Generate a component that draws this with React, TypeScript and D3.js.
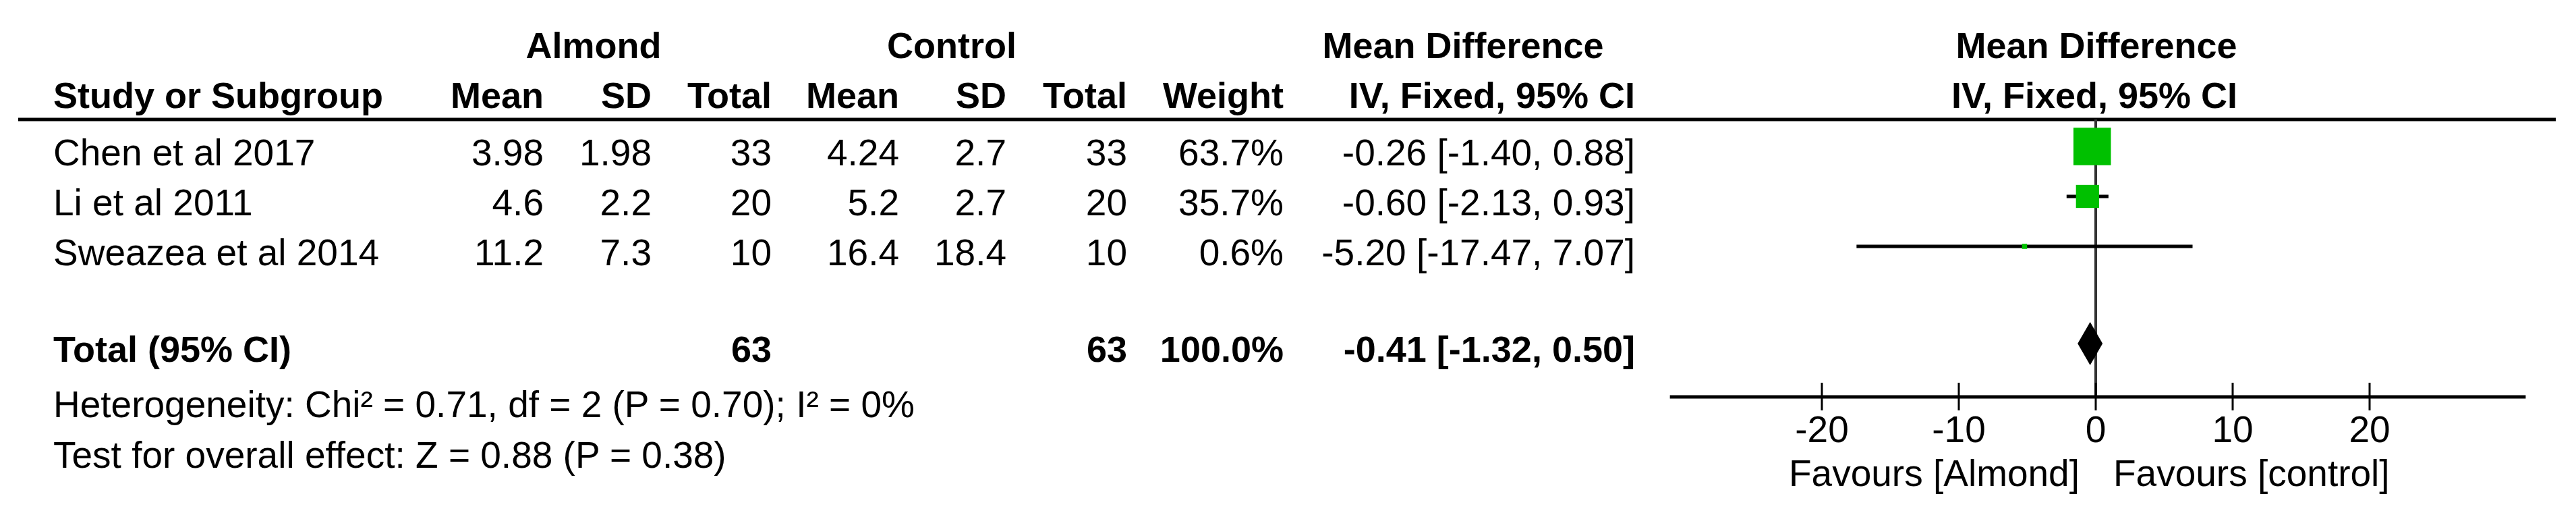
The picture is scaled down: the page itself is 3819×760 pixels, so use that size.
import React from 'react';
import * as d3 from 'd3';

// study rows
const studies = ['Chen et al 2017', 'Li et al 2011', 'Sweazea et al 2014'];
const almondMean = [3.98, 4.6, 11.2];
const almondSD = [1.98, 2.2, 7.3];
const almondTotal = [33, 20, 10];
const controlMean = [4.24, 5.2, 16.4];
const controlSD = [2.7, 2.7, 18.4];
const controlTotal = [33, 20, 10];
const weights = [63.7, 35.7, 0.6];
const meanDiff = [-0.26, -0.6, -5.2];
const ciLow = [-1.4, -2.13, -17.47];
const ciHigh = [0.88, 0.93, 7.07];

// pooled result
const totalLabel = 'Total (95% CI)';
const totalAlmond = 63;
const totalControl = 63;
const totalWeight = 100.0;
const totalMD = -0.41;
const totalLow = -1.32;
const totalHigh = 0.5;

const heterogeneity = 'Heterogeneity: Chi² = 0.71, df = 2 (P = 0.70); I² = 0%';
const overallEffect = 'Test for overall effect: Z = 0.88 (P = 0.38)';

const tickValues = [-20, -10, 0, 10, 20];
const axisExtent = [-31.1, 31.4];
const favoursLeft = 'Favours [Almond]';
const favoursRight = 'Favours [control]';

const W = 3819;
const H = 760;
const FONT = '"Liberation Sans", Arial, sans-serif';
const FS = 55;

// column anchors (right aligned text)
const col = {
  label: 79,
  aMean: 806,
  aSD: 966,
  aTotal: 1144,
  cMean: 1333,
  cSD: 1492,
  cTotal: 1671,
  weight: 1903,
  ci: 2424,
};

// plain hyphen for negatives, like RevMan prints them
const locale = d3.formatLocale({ decimal: '.', thousands: ',', grouping: [3], currency: ['', ''], minus: '-' });
const f2 = locale.format('.2f');
const f1 = locale.format('.1f');
const ciText = (m: number, lo: number, hi: number) => `${f2(m)} [${f2(lo)}, ${f2(hi)}]`;

export default function App() {
  const x = d3.scaleLinear().domain([-20, 20]).range([2701, 3513]);
  const rowY = d3.scaleLinear().domain([0, 2]).range([217, 365]);
  const boxSize = d3.scaleLinear().domain([0, 100]).range([7.1, 83.2]);
  const totalY = 509;
  const lineTop = 177;
  const axisY = 588;

  const num = (v: number | string, xPos: number, y: number, bold = false, key?: string) => (
    <text key={key} x={xPos} y={y} textAnchor="end" fontWeight={bold ? 'bold' : 'normal'}>{v}</text>
  );

  const diamond = d3.line()([
    [x(totalLow), totalY],
    [x(totalMD), totalY - 32],
    [x(totalHigh), totalY],
    [x(totalMD), totalY + 32],
  ]) + 'Z';

  return (
    <div style={{ position: 'absolute', left: 0, top: 0 }}>
      <svg width={W} height={H} style={{ display: 'block', background: '#fff' }} fontFamily={FONT} fontSize={FS} fill="#000">
        {/* header */}
        <g fontWeight="bold" fontSize={54}>
          <text x={880} y={86} textAnchor="middle">Almond</text>
          <text x={1411} y={86} textAnchor="middle">Control</text>
          <text x={2169} y={86} textAnchor="middle">Mean Difference</text>
          <text x={3108} y={86} textAnchor="middle">Mean Difference</text>
          <text x={col.label} y={160}>Study or Subgroup</text>
          <text x={col.aMean} y={160} textAnchor="end">Mean</text>
          <text x={col.aSD} y={160} textAnchor="end">SD</text>
          <text x={col.aTotal} y={160} textAnchor="end">Total</text>
          <text x={col.cMean} y={160} textAnchor="end">Mean</text>
          <text x={col.cSD} y={160} textAnchor="end">SD</text>
          <text x={col.cTotal} y={160} textAnchor="end">Total</text>
          <text x={col.weight} y={160} textAnchor="end">Weight</text>
          <text x={col.ci} y={160} textAnchor="end">IV, Fixed, 95% CI</text>
          <text x={3105} y={160} textAnchor="middle">IV, Fixed, 95% CI</text>
        </g>
        <line x1={27} x2={3789} y1={lineTop} y2={lineTop} stroke="#000" strokeWidth={5} />

        {/* zero line */}
        <line x1={x(0)} x2={x(0)} y1={lineTop} y2={axisY} stroke="#333" strokeWidth={4} />

        {/* study rows */}
        {studies.map((s, i) => {
          const cy = rowY(i);
          const by = cy + 28;
          const sz = boxSize(weights[i]);
          return (
            <g key={s}>
              <text x={col.label} y={by}>{s}</text>
              {num(almondMean[i], col.aMean, by)}
              {num(almondSD[i], col.aSD, by)}
              {num(almondTotal[i], col.aTotal, by)}
              {num(controlMean[i], col.cMean, by)}
              {num(controlSD[i], col.cSD, by)}
              {num(controlTotal[i], col.cTotal, by)}
              {num(f1(weights[i]) + '%', col.weight, by)}
              {num(ciText(meanDiff[i], ciLow[i], ciHigh[i]), col.ci, by)}
              <line x1={x(ciLow[i])} x2={x(ciHigh[i])} y1={cy} y2={cy} stroke="#000" strokeWidth={5} />
              <rect x={x(meanDiff[i]) - sz / 2} y={cy - sz / 2} width={sz} height={sz} fill="#00c000" />
            </g>
          );
        })}

        {/* total row */}
        <g fontWeight="bold" fontSize={54}>
          <text x={col.label} y={totalY + 27}>{totalLabel}</text>
          {num(totalAlmond, col.aTotal, totalY + 27, true)}
          {num(totalControl, col.cTotal, totalY + 27, true)}
          {num(f1(totalWeight) + '%', col.weight, totalY + 27, true)}
          {num(ciText(totalMD, totalLow, totalHigh), col.ci, totalY + 27, true)}
        </g>
        <path d={diamond} fill="#000" />

        <text x={col.label} y={618}>{heterogeneity}</text>
        <text x={col.label} y={693}>{overallEffect}</text>

        {/* axis */}
        <line x1={x(axisExtent[0])} x2={x(axisExtent[1])} y1={axisY} y2={axisY} stroke="#000" strokeWidth={5} />
        {tickValues.map(t => (
          <g key={t}>
            <line x1={x(t)} x2={x(t)} y1={axisY - 21} y2={axisY + 20} stroke="#000" strokeWidth={3} />
            <text x={x(t)} y={655} textAnchor="middle">{t}</text>
          </g>
        ))}
        <text x={x(0) - 24} y={720} textAnchor="end">{favoursLeft}</text>
        <text x={x(0) + 26} y={720}>{favoursRight}</text>
      </svg>
    </div>
  );
}
